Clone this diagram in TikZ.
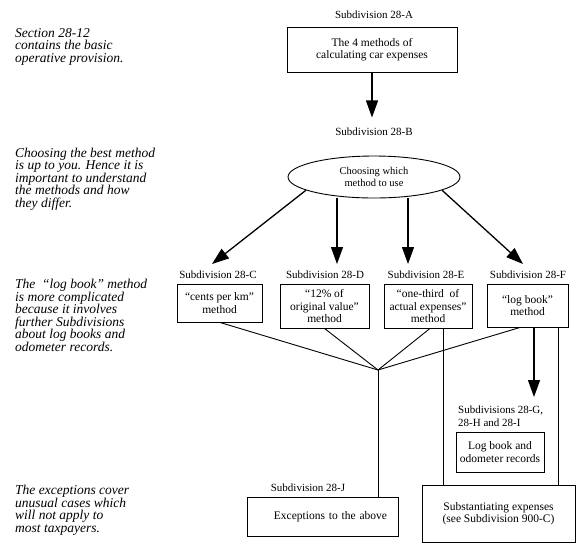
\documentclass[tikz,border=0pt]{standalone}
\usepackage{fontspec}
\setmainfont{Liberation Serif}
\usetikzlibrary{shapes.geometric,arrows.meta}
\begin{document}
\begin{tikzpicture}[x=1pt,y=-1pt,
  lbl/.style={font=\fontsize{11}{12}\selectfont, inner sep=0pt},
  box/.style={draw, line width=0.9pt, font=\fontsize{11.5}{12.5}\selectfont, align=center, inner sep=0pt},
  note/.style={font=\fontsize{13.5}{12.5}\selectfont\itshape, align=left, anchor=base west, inner sep=0pt},
  arr/.style={line width=1.3pt, -{Triangle[length=17pt,width=12pt]}},
  ln/.style={line width=0.9pt}]
\useasboundingbox (0,0) rectangle (580,550);

% left notes (anchor = baseline of last line)
\node[note] (n1) at (15,62) {Section 28-12\\contains the basic\\operative provision.};
\node[note] (n2) at (15,207) {Choosing the best method\\is up to you. Hence it is\\important to understand\\the methods and how\\they differ.};
\node[note] (n3) at (15,351) {The \ “log book” method\\is more complicated\\because it involves\\further Subdivisions\\about log books and\\odometer records.};
\node[note] (n4) at (15,532) {The exceptions cover\\unusual cases which\\will not apply to\\most taxpayers.};

% top
\node[lbl] (la) at (374,15) {Subdivision 28-A};
\node[box, minimum width=170, minimum height=45] (a) at (372,49.5) {The 4 methods of\\calculating car expenses};
\node[lbl] (lb) at (374,132) {Subdivision 28-B};
\node[draw, ellipse, line width=0.9pt, minimum width=172, minimum height=42, inner sep=0pt, align=center, font=\fontsize{10.5}{12}\selectfont] (e) at (374,177) {Choosing which\\method to use};
\draw[arr] (a.south) -- ++(0,45);

% method boxes
\node[lbl] (lc) at (218,275) {Subdivision 28-C};
\node[lbl] (ld) at (325,275) {Subdivision 28-D};
\node[lbl] (le) at (426,275) {Subdivision 28-E};
\node[lbl] (lf) at (528,275) {Subdivision 28-F};
\node[box, minimum width=85, minimum height=38] (c) at (219.5,303) {“cents per km”\\method};
\node[box, minimum width=89, minimum height=44] (d) at (324.5,306) {“12\% of\\original value”\\method};
\node[box, minimum width=88, minimum height=44] (ee) at (428,306) {“one-third \ of\\actual expenses”\\method};
\node[box, minimum width=81, minimum height=43] (f) at (527.5,305.5) {“log book”\\method};

\coordinate (tc) at (212,264);
\coordinate (td) at (337,264);
\coordinate (te) at (408,264);
\coordinate (tf) at (523,264);
\draw[arr] (e.191) -- (tc);
\draw[arr] (e.south -| td) -- (td);
\draw[arr] (e.south -| te) -- (te);
\draw[arr] (e.349) -- (tf);

% junction
\coordinate (j) at (378,370);
\draw[ln] (c.south) ++(0.5,0) -- (j);
\draw[ln] (d.south) -- (j);
\draw[ln] (ee.south) ++(2,0) -- (j);
\draw[ln] (f.south) ++(-7.5,0) -- (j);

% bottom
\node[lbl] (lj) at (308,488) {Subdivision 28-J};
\node[box, minimum width=151, minimum height=39, text width=129, align=right, inner xsep=11pt] (jb) at (322.5,516.5) {Exceptions to the above};
\draw[ln] (j) -- (j |- jb.north);

\node[box, minimum width=153, minimum height=57] (s) at (498.5,513.5) {Substantiating expenses\\(see Subdivision 900-C)};
\draw[ln] (ee.south -| 443,0) -- (s.north -| 443,0);
\draw[ln] (f.south -| 558,0) -- (s.north -| 558,0);

\node[lbl, anchor=base west, align=left, font=\fontsize{11}{12.5}\selectfont] (lg) at (458,426) {Subdivisions 28-G,\\28-H and 28-I};
\node[box, minimum width=88, minimum height=40] (g) at (500,452) {Log book and\\odometer records};
\draw[arr] (f.south -| 534,0) -- (534,397);
\end{tikzpicture}
\end{document}
